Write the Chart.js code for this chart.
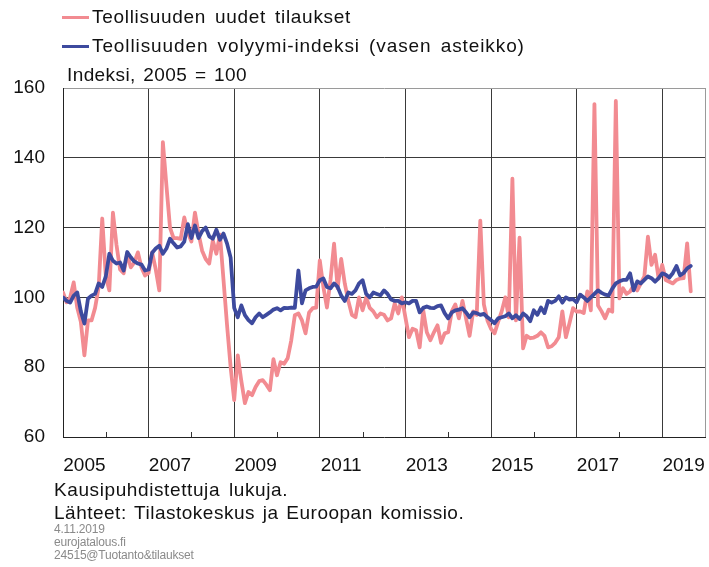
<!DOCTYPE html>
<html>
<head>
<meta charset="utf-8">
<script src="https://cdn.jsdelivr.net/npm/chart.js@4.4.1/dist/chart.umd.min.js"></script>
<style>
  body { margin: 0; background: #fff; }
  #wrap { position: relative; width: 709px; height: 567px; font-family: "Liberation Sans", Arial, sans-serif; color: #111; }
  canvas { position: absolute; left: 0; top: 0; }
  .txt { position: absolute; white-space: nowrap; font-size: 19px; letter-spacing: 0.7px; word-spacing: 3px; line-height: 22px; }
  .leg .swatch { position: absolute; left: -30px; top: 10px; width: 27px; height: 3px; }
  .small { position: absolute; left: 54px; font-size: 12px; color: #8a8a8a; line-height: 13px; white-space: nowrap; letter-spacing: -0.2px; }
</style>
</head>
<body>
<div id="wrap">
  <canvas id="chart" width="709" height="567"></canvas>
  <div class="txt leg" style="left:92px; top:6px"><span class="swatch" style="background:#f28b91"></span>Teollisuuden uudet tilaukset</div>
  <div class="txt leg" style="left:92px; top:35px; letter-spacing:0.9px"><span class="swatch" style="background:#3d4a9e"></span>Teollisuuden volyymi-indeksi (vasen asteikko)</div>
  <div class="txt" style="left:67px; top:64px; letter-spacing:0.4px; word-spacing:2px">Indeksi, 2005 = 100</div>
  <div class="txt" style="left:54px; top:479px; letter-spacing:0.6px">Kausipuhdistettuja lukuja.</div>
  <div class="txt" style="left:54px; top:502px; letter-spacing:0.5px; word-spacing:2px">Lähteet: Tilastokeskus ja Euroopan komissio.</div>
  <div class="small" style="top:523px">4.11.2019<br>eurojatalous.fi<br>24515@Tuotanto&amp;tilaukset</div>
</div>
<script>
// monthly values, Jan 2005 - Sep 2019
const firstYear = 2005;
const lastYear = 2020;

const orders = [
  101.4, 98.6, 100, 104.3, 97, 93, 83.4, 93.4, 93.4, 97, 102.9, 122.6,      // 2005
  106, 102, 124.3, 115, 108, 106.9, 112.5, 108.6, 110, 112.9, 108.6, 106.3, // 2006
  107, 112.9, 108, 102, 144.5, 132, 120, 117, 117, 116.8, 122.9, 118.6,     // 2007
  116, 124.3, 118.3, 113.4, 111, 109.7, 116.3, 112.5, 118, 105, 92, 80,     // 2008
  70.6, 83.4, 76, 69.7, 72.9, 72, 74.3, 76, 76.3, 75, 73.4, 82.3,           // 2009
  77.7, 81.4, 81, 82.6, 87.7, 94.9, 95.4, 93.4, 89.7, 95.7, 96.9, 97.1,     // 2010
  110.6, 103, 97.1, 105, 115.4, 102.6, 111, 104, 99, 95, 94.3, 100,         // 2011
  96.3, 100, 97, 96, 94.3, 95.4, 95, 93.4, 94, 98.3, 95.4, 100,             // 2012
  94.3, 88.6, 91, 90.6, 85.7, 96.3, 90, 87.7, 90, 92, 87, 89.7,             // 2013
  90, 96, 98, 94, 99, 94, 89, 96, 95, 122, 98, 93.4,                        // 2014
  91, 89.7, 93, 96, 100, 94.3, 134, 93.4, 117.1, 85.4, 89, 88.3,            // 2015
  88.5, 89, 90, 89, 85.7, 86, 87, 88.6, 96, 88.6, 92.6, 96.9,               // 2016
  95.9, 96, 95.5, 101.7, 96.3, 155.4, 97.7, 96, 94, 96.5, 95.9, 156.3,      // 2017
  99.7, 102.6, 101, 101.7, 103.4, 102, 104, 106, 117.4, 109.3, 112.2, 105.4,// 2018
  109.3, 105, 104.5, 104, 105, 105.4, 105.5, 115.5, 101.7                   // 2019
];

const volume = [
  100, 99, 98.5, 100.5, 101.4, 96, 92.5, 99.6, 100.5, 101, 104, 103,        // 2005
  106, 112.5, 110.5, 109.7, 110, 107.7, 113, 111.5, 110.3, 109.7, 109.4, 107.7, // 2006
  108, 112.8, 114, 114.8, 112.5, 114, 116.8, 115.5, 114.3, 114.6, 116, 121, // 2007
  117, 120.6, 117, 119, 120, 117.5, 116.8, 119.4, 116.5, 118.3, 115.4, 111.4, // 2008
  97, 94.3, 97.7, 94.9, 93.5, 92.6, 94.3, 95.4, 94.3, 95, 95.7, 96.5,       // 2009
  96.9, 96.3, 97, 96.9, 97.1, 97, 107.7, 98.3, 102, 102.6, 103, 103.1,      // 2010
  104.9, 105.4, 103, 102.6, 104, 103, 100.5, 99, 101.4, 101, 102, 104,      // 2011
  104.9, 101, 100, 101.4, 101, 100.6, 102, 101, 99.4, 99, 99, 98.3,         // 2012
  98.6, 98.3, 99, 99, 95.7, 97, 97.4, 97, 96.9, 97.5, 97.7, 95.5,           // 2013
  94, 95.7, 96.3, 96.5, 96.9, 95.7, 94.3, 95.7, 95.5, 95, 95.3, 94.3,       // 2014
  93.5, 92.6, 94, 94.3, 94.6, 95.4, 94, 94.9, 93.8, 95.4, 94.6, 93.2,       // 2015
  96.3, 95, 97.1, 95.5, 99, 98.5, 99, 100.3, 98.5, 100, 99.4, 99.5,         // 2016
  98.6, 100.8, 100, 99, 100, 101, 102, 101.3, 100.8, 100.6, 102.5, 104,     // 2017
  104.6, 105, 105, 106.9, 102, 104.6, 104, 105, 106, 105.5, 104.5, 105.5,   // 2018
  106.9, 106.5, 105.7, 107, 109, 106.3, 107, 108.3, 109                     // 2019
];

const yTicks = [60, 80, 100, 120, 140, 160];
const yearLabels = [2005, 2007, 2009, 2011, 2013, 2015, 2017, 2019];

// month positions as fractional years
const toPoints = vals => vals.map((v, i) => ({x: firstYear + i / 12, y: v}));

const FONT = "'Liberation Sans', Arial, sans-serif";

// short inward tick marks at even years
const minorTicks = {
    id: 'minorTicks',
    afterDraw(chart) {
        const ctx = chart.ctx;
        const xs = chart.scales.x;
        const bottom = chart.chartArea.bottom;
        ctx.save();
        ctx.strokeStyle = '#333';
        ctx.lineWidth = 1;
        for (let yr = firstYear + 1; yr < lastYear; yr += 2) {
            const px = Math.round(xs.getPixelForValue(yr)) + 0.5;
            ctx.beginPath();
            ctx.moveTo(px, bottom);
            ctx.lineTo(px, bottom - 5);
            ctx.stroke();
        }
        ctx.restore();
    }
};

new Chart(document.getElementById('chart'), {
    type: 'line',
    data: {
        datasets: [{
            label: 'Teollisuuden volyymi-indeksi (vasen asteikko)',
            data: toPoints(volume),
            borderColor: '#3d4a9e',
            borderWidth: 3.8,
            order: 0
        }, {
            label: 'Teollisuuden uudet tilaukset',
            data: toPoints(orders),
            borderColor: '#f28b91',
            borderWidth: 3.8,
            order: 1
        }]
    },
    options: {
        responsive: false,
        animation: false,
        layout: {padding: {left: 0, top: 88, right: 4, bottom: 80}},
        elements: {
            point: {radius: 0},
            line: {tension: 0, borderJoinStyle: 'round', borderCapStyle: 'round'}
        },
        scales: {
            x: {
                type: 'linear',
                min: firstYear,
                max: lastYear,
                afterBuildTicks: s => {
                    const t = [];
                    for (let yr = firstYear; yr <= lastYear; yr++) t.push({value: yr});
                    s.ticks = t;
                },
                afterFit: s => { s.height = 0; s.paddingLeft = 0; s.paddingRight = 0; },
                ticks: {display: false},
                grid: {
                    drawTicks: false,
                    lineWidth: 1,
                    color: c => {
                        const v = c.tick && c.tick.value;
                        if (v === lastYear) return '#9a9a9a';
                        if (v > firstYear && (v - firstYear) % 2 === 0) return '#3a3a3a';
                        return 'rgba(0,0,0,0)';
                    }
                },
                border: {display: true, color: '#222', width: 1}
            },
            xl: {
                type: 'linear',
                position: 'bottom',
                min: firstYear,
                max: lastYear,
                afterBuildTicks: s => { s.ticks = yearLabels.map(y => ({value: y + 0.5})); },
                afterFit: s => { s.height = 50; s.paddingLeft = 0; s.paddingRight = 0; },
                ticks: {
                    autoSkip: false,
                    maxRotation: 0,
                    padding: 17,
                    color: '#111',
                    font: {family: FONT, size: 19},
                    callback: v => String(Math.floor(v))
                },
                grid: {display: false, drawTicks: false},
                border: {display: false}
            },
            y: {
                min: 60,
                max: 160,
                afterBuildTicks: s => { s.ticks = yTicks.map(v => ({value: v})); },
                afterFit: s => { s.width = 63; s.paddingTop = 0; s.paddingBottom = 0; },
                ticks: {
                    padding: 18,
                    color: '#111',
                    font: {family: FONT, size: 19}
                },
                grid: {
                    drawTicks: false,
                    lineWidth: 1,
                    color: c => {
                        const v = c.tick && c.tick.value;
                        if (v === 160) return '#9a9a9a';
                        if (v === 60) return 'rgba(0,0,0,0)';
                        return '#3a3a3a';
                    }
                },
                border: {display: true, color: '#222', width: 1}
            }
        },
        plugins: {
            legend: {display: false},
            tooltip: {enabled: false}
        }
    },
    plugins: [minorTicks]
});
</script>
</body>
</html>
